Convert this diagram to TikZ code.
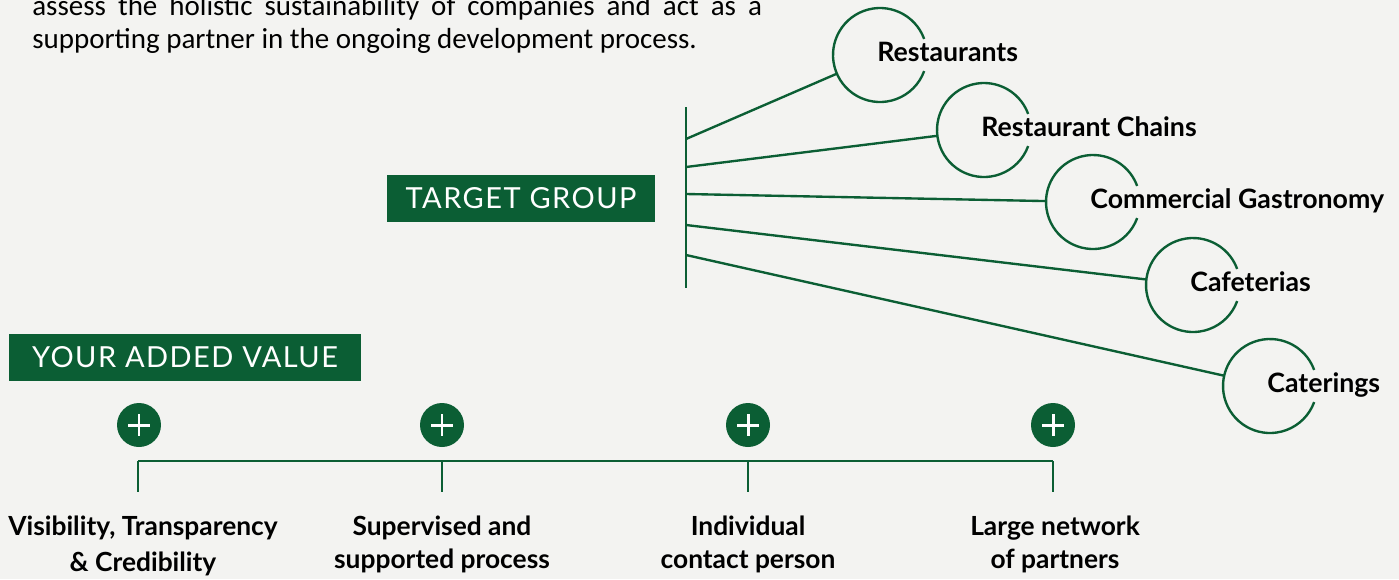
\documentclass[tikz,border=0pt]{standalone}
\usepackage{fontspec}
\setmainfont{Lato}
\newfontfamily\bodyfont{Carlito}
\newfontfamily\boxfont[LetterSpace=5]{Lato}
\usetikzlibrary{positioning}
\definecolor{leafgreen}{HTML}{0B5E34}
\definecolor{paper}{HTML}{F3F3F1}

\begin{document}
\begin{tikzpicture}[x=0.02cm,y=-0.02cm,
    ring/.style={circle, minimum size=1.88cm, inner sep=0pt, outer sep=0pt},
    ringline/.style={draw=leafgreen, line width=1.35pt},
    tglabel/.style={anchor=base west, inner sep=0pt, font=\fontsize{15.2}{18}\selectfont\bfseries},
    headbox/.style={fill=leafgreen, text=white, inner sep=0pt, minimum height=0.94cm, font=\boxfont\fontsize{16.5}{19}\selectfont},
    plus/.style={circle, fill=leafgreen, minimum size=0.88cm, inner sep=0pt,
        path picture={\draw[white, line width=1.7pt] (path picture bounding box.center) +(-11,0) -- +(11,0)
            (path picture bounding box.center) +(0,-11) -- +(0,11);}},
    valuelabel/.style={anchor=north, inner sep=0pt, align=center, font=\fontsize{15}{18.5}\selectfont\bfseries}]
    \fill[paper] (0,0) rectangle (1399,579);
    \useasboundingbox (0,0) rectangle (1399,579);

    % intro text, cut at the top
    \node[anchor=base west, inner sep=0pt, font=\bodyfont\fontsize{16.5}{19}\selectfont] (introa) at (32,15)
        {\makebox[14.6cm][s]{assess the holistic sustainability of companies and act as a}};
    \node[anchor=base west, inner sep=0pt, font=\bodyfont\fontsize{16.5}{19}\selectfont] (introb) at (32,48)
        {supporting partner in the ongoing development process.};

    % target group
    \node[headbox, minimum width=5.36cm] (target) at (521,198.5) {TARGET GROUP};
    \coordinate (stemtop) at (686,107);
    \coordinate (stembot) at (686,288);
    \draw[ringline] (stemtop) -- (stembot);
    \coordinate (b1) at (686,139);
    \coordinate (b2) at (686,167);
    \coordinate (b3) at (686,194);
    \coordinate (b4) at (686,225);
    \coordinate (b5) at (686,255);

    \node[ring] (rest) at (880,55) {};
    \node[ring] (chains) at (984,130) {};
    \node[ring] (gastro) at (1093,202) {};
    \node[ring] (cafe) at (1193,285) {};
    \node[ring] (cater) at (1270,386) {};

    \foreach \c/\b in {rest/b1, chains/b2, gastro/b3, cafe/b4, cater/b5} {
        \draw[ringline] (\b) -- (\c);
        \draw[ringline] (\c.20) arc[start angle=20, end angle=340, radius=0.94cm];
    }

    \node[tglabel] (restlbl) at ([xshift=-0.06cm, yshift=-0.12cm]rest.center) {Restaurants};
    \node[tglabel] (chainslbl) at ([xshift=-0.06cm, yshift=-0.12cm]chains.center) {Restaurant Chains};
    \node[tglabel] (gastrolbl) at ([xshift=-0.06cm, yshift=-0.12cm]gastro.center) {Commercial Gastronomy};
    \node[tglabel] (cafelbl) at ([xshift=-0.06cm, yshift=-0.12cm]cafe.center) {Cafeterias};
    \node[tglabel] (caterlbl) at ([xshift=-0.06cm, yshift=-0.12cm]cater.center) {Caterings};

    % added value
    \node[headbox, minimum width=7.04cm] (value) at (185,357) {YOUR ADDED VALUE};

    \node[plus] (p1) at (139,425) {};
    \node[plus] (p2) at (442,425) {};
    \node[plus] (p3) at (748,425) {};
    \node[plus] (p4) at (1053,425) {};

    \foreach \i/\x in {1/138, 2/442, 3/748, 4/1053} {
        \coordinate (t\i) at (\x,461);
        \coordinate (d\i) at (\x,492);
        \draw[ringline] (t\i) -- (d\i);
    }
    \draw[ringline] (t1) -- (t4);

    \node[valuelabel] (v1) at (143,516) {Visibility, Transparency\\[2pt] \& Credibility};
    \node[valuelabel] (v2) at (442,516) {Supervised and\\ supported process};
    \node[valuelabel] (v3) at (748,516) {Individual\\ contact person};
    \node[valuelabel] (v4) at (1055,516) {Large network\\ of partners};
\end{tikzpicture}
\end{document}
